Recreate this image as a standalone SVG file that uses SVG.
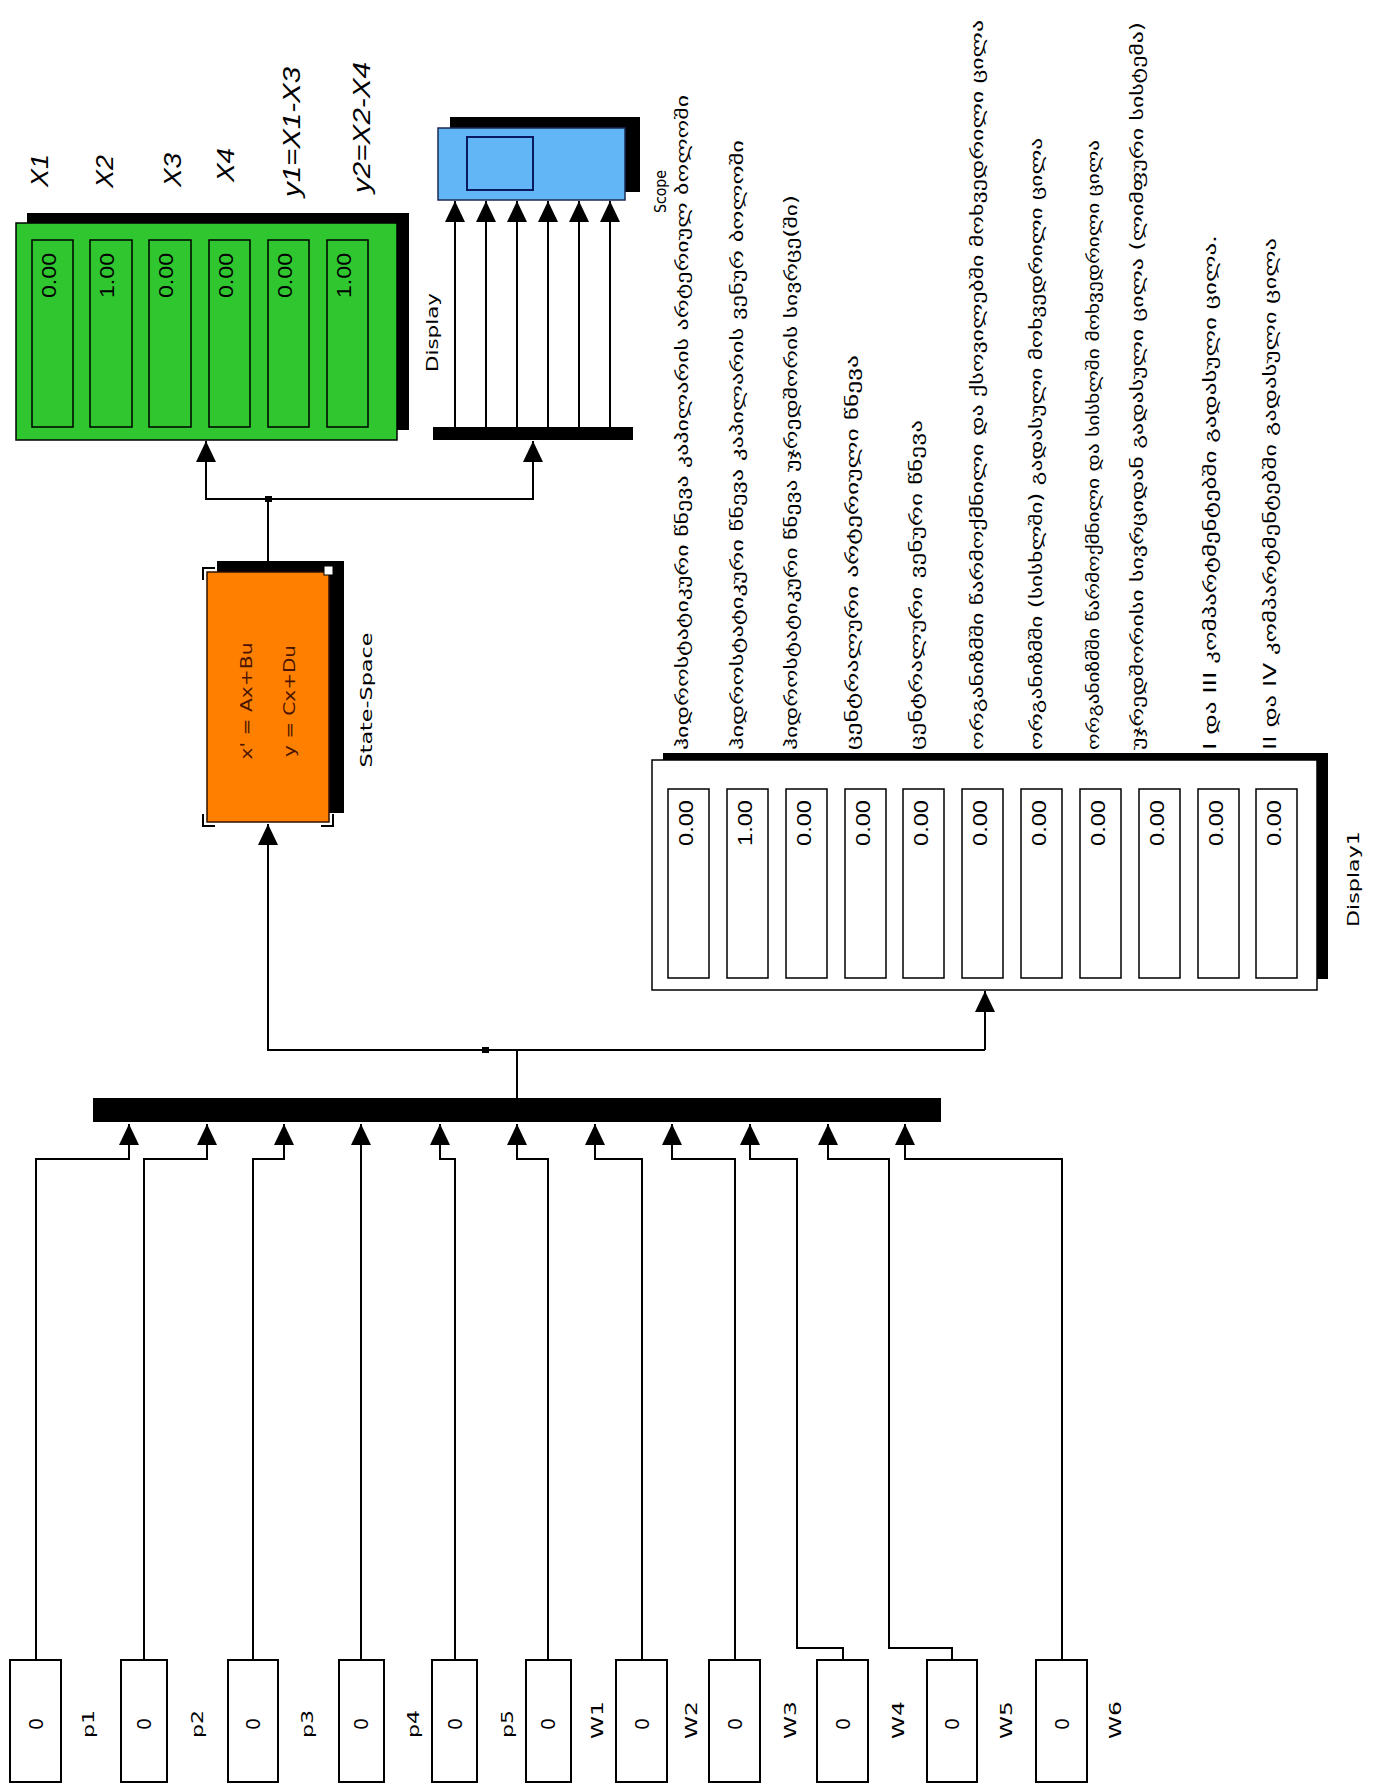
<svg xmlns="http://www.w3.org/2000/svg" width="1386" height="1784" viewBox="0 0 1386 1784">
<style>
.ln{stroke:#000;stroke-width:2;fill:none}
.lbl{font-family:"DejaVu Sans","Liberation Sans",sans-serif;font-size:15px;fill:#000;dominant-baseline:central}
.geo{font-family:"DejaVu Sans","Noto Sans",sans-serif;font-size:17px;fill:#000;dominant-baseline:central}
.val{font-family:"Liberation Sans","DejaVu Sans",sans-serif;font-size:20px;fill:#000;dominant-baseline:central}
.it{font-family:"Liberation Sans",Arial,sans-serif;font-style:italic;font-size:24px;fill:#000;dominant-baseline:central}
.blk{fill:#fff;stroke:#000;stroke-width:2}
.fld{fill:none;stroke:#000;stroke-width:1.5}
</style>
<defs>
<marker id="ar" markerUnits="userSpaceOnUse" markerWidth="22" markerHeight="22" refX="21" refY="10" orient="auto" overflow="visible"><path d="M0,0 L21,10 L0,20 z" fill="#000"/></marker>
</defs>
<rect width="1386" height="1784" fill="#fff"/>

<g id="connectors">
<polyline class="ln" points="36,1660 36,1159 129,1159 129,1124" marker-end="url(#ar)"/>
<polyline class="ln" points="144,1660 144,1159 207,1159 207,1124" marker-end="url(#ar)"/>
<polyline class="ln" points="253,1660 253,1159 284,1159 284,1124" marker-end="url(#ar)"/>
<polyline class="ln" points="361,1660 361,1124" marker-end="url(#ar)"/>
<polyline class="ln" points="455,1660 455,1159 440,1159 440,1124" marker-end="url(#ar)"/>
<polyline class="ln" points="548,1660 548,1159 517,1159 517,1124" marker-end="url(#ar)"/>
<polyline class="ln" points="642,1660 642,1159 595,1159 595,1124" marker-end="url(#ar)"/>
<polyline class="ln" points="735,1660 735,1159 672,1159 672,1124" marker-end="url(#ar)"/>
<polyline class="ln" points="843,1660 843,1648 797,1648 797,1159 750,1159 750,1124" marker-end="url(#ar)"/>
<polyline class="ln" points="952,1660 952,1648 889,1648 889,1159 828,1159 828,1124" marker-end="url(#ar)"/>
<polyline class="ln" points="1062,1660 1062,1159 905,1159 905,1124" marker-end="url(#ar)"/>
<polyline class="ln" points="517,1098 517,1050"/>
<polyline class="ln" points="985,1050 268,1050 268,824" marker-end="url(#ar)"/>
<polyline class="ln" points="985,1050 985,991" marker-end="url(#ar)"/>
<rect x="482" y="1047" width="7" height="6" fill="#000"/>
<polyline class="ln" points="268,562 268,499"/>
<polyline class="ln" points="268,499 206,499 206,441" marker-end="url(#ar)"/>
<polyline class="ln" points="268,499 533,499 533,441" marker-end="url(#ar)"/>
<rect x="265" y="496" width="7" height="6" fill="#000"/>
<polyline class="ln" points="455,427 455,201" marker-end="url(#ar)"/>
<polyline class="ln" points="486,427 486,201" marker-end="url(#ar)"/>
<polyline class="ln" points="517,427 517,201" marker-end="url(#ar)"/>
<polyline class="ln" points="548,427 548,201" marker-end="url(#ar)"/>
<polyline class="ln" points="579,427 579,201" marker-end="url(#ar)"/>
<polyline class="ln" points="610,427 610,201" marker-end="url(#ar)"/>
</g>

<g id="display">
<rect x="27" y="213" width="382" height="217" fill="#000"/>
<rect x="16" y="223" width="381" height="217" fill="#2fc62f" stroke="#000" stroke-width="1.5"/>
<rect class="fld" x="32" y="240" width="41" height="187"/>
<rect class="fld" x="90" y="240" width="42" height="187"/>
<rect class="fld" x="149" y="240" width="42" height="187"/>
<rect class="fld" x="209" y="240" width="41" height="187"/>
<rect class="fld" x="268" y="240" width="41" height="187"/>
<rect class="fld" x="327" y="240" width="41" height="187"/>
<text class="val" transform="translate(49,298) rotate(-90)" textLength="45" lengthAdjust="spacingAndGlyphs">0.00</text>
<text class="val" transform="translate(107,298) rotate(-90)" textLength="45" lengthAdjust="spacingAndGlyphs">1.00</text>
<text class="val" transform="translate(166,298) rotate(-90)" textLength="45" lengthAdjust="spacingAndGlyphs">0.00</text>
<text class="val" transform="translate(226,298) rotate(-90)" textLength="45" lengthAdjust="spacingAndGlyphs">0.00</text>
<text class="val" transform="translate(285,298) rotate(-90)" textLength="45" lengthAdjust="spacingAndGlyphs">0.00</text>
<text class="val" transform="translate(344,298) rotate(-90)" textLength="45" lengthAdjust="spacingAndGlyphs">1.00</text>
<text class="lbl" font-size="17" transform="translate(433,372) rotate(-90)" textLength="79" lengthAdjust="spacingAndGlyphs">Display</text>
<text class="it" transform="translate(39,187) rotate(-90)" textLength="33" lengthAdjust="spacingAndGlyphs">X1</text>
<text class="it" transform="translate(104,188) rotate(-90)" textLength="33" lengthAdjust="spacingAndGlyphs">X2</text>
<text class="it" transform="translate(172,187) rotate(-90)" textLength="34" lengthAdjust="spacingAndGlyphs">X3</text>
<text class="it" transform="translate(225,182) rotate(-90)" textLength="34" lengthAdjust="spacingAndGlyphs">X4</text>
<text class="it" transform="translate(291,197) rotate(-90)" textLength="130" lengthAdjust="spacingAndGlyphs">y1=X1-X3</text>
<text class="it" transform="translate(361,193) rotate(-90)" textLength="131" lengthAdjust="spacingAndGlyphs">y2=X2-X4</text>
</g>

<g id="scope">
<rect x="450" y="117" width="190" height="75" fill="#000"/>
<rect x="438" y="128" width="187" height="72" fill="#62b6f5" stroke="#1a2a50" stroke-width="1.5"/>
<rect x="467" y="137" width="66" height="53" fill="none" stroke="#0a1a60" stroke-width="2"/>
<text class="lbl" font-size="16" transform="translate(661,213) rotate(-90)" textLength="43" lengthAdjust="spacingAndGlyphs">Scope</text>
</g>

<g id="demux">
<rect x="433" y="427" width="200" height="13" fill="#000"/>
</g>

<g id="state-space">
<rect x="217" y="561" width="127" height="252" fill="#000"/>
<rect x="207" y="572" width="122" height="250" fill="#ff8000" stroke="#301000" stroke-width="1.5"/>
<path d="M203,580 V568 H215" class="ln" stroke-width="3"/>
<path d="M203,814 V826 H215" class="ln" stroke-width="3"/>
<path d="M321,826 H333 V814" class="ln" stroke-width="3"/>
<rect x="324" y="566" width="9" height="9" fill="#fff" stroke="#000" stroke-width="1"/>
<text class="lbl" font-size="18" text-anchor="middle" transform="translate(247,701) rotate(-90)" textLength="117" lengthAdjust="spacingAndGlyphs" style="fill:#4a1400">x' = Ax+Bu</text>
<text class="lbl" font-size="18" text-anchor="middle" transform="translate(290,701) rotate(-90)" textLength="112" lengthAdjust="spacingAndGlyphs" style="fill:#4a1400">y = Cx+Du</text>
<text class="lbl" font-size="17" text-anchor="middle" transform="translate(367,700) rotate(-90)" textLength="135" lengthAdjust="spacingAndGlyphs">State-Space</text>
</g>

<g id="mux">
<rect x="93" y="1098" width="848" height="24" fill="#000"/>
</g>

<g id="display1">
<rect x="663" y="753" width="665" height="226" fill="#000"/>
<rect x="652" y="760" width="665" height="230" fill="#fff" stroke="#000" stroke-width="1.5"/>
<rect class="fld" x="668" y="789" width="41" height="189"/>
<rect class="fld" x="727" y="789" width="41" height="189"/>
<rect class="fld" x="786" y="789" width="41" height="189"/>
<rect class="fld" x="845" y="789" width="41" height="189"/>
<rect class="fld" x="903" y="789" width="41" height="189"/>
<rect class="fld" x="962" y="789" width="41" height="189"/>
<rect class="fld" x="1021" y="789" width="41" height="189"/>
<rect class="fld" x="1080" y="789" width="41" height="189"/>
<rect class="fld" x="1139" y="789" width="41" height="189"/>
<rect class="fld" x="1198" y="789" width="41" height="189"/>
<rect class="fld" x="1256" y="789" width="41" height="189"/>
<text class="val" transform="translate(686,846) rotate(-90)" textLength="46" lengthAdjust="spacingAndGlyphs">0.00</text>
<text class="val" transform="translate(745,846) rotate(-90)" textLength="46" lengthAdjust="spacingAndGlyphs">1.00</text>
<text class="val" transform="translate(804,846) rotate(-90)" textLength="46" lengthAdjust="spacingAndGlyphs">0.00</text>
<text class="val" transform="translate(863,846) rotate(-90)" textLength="46" lengthAdjust="spacingAndGlyphs">0.00</text>
<text class="val" transform="translate(921,846) rotate(-90)" textLength="46" lengthAdjust="spacingAndGlyphs">0.00</text>
<text class="val" transform="translate(980,846) rotate(-90)" textLength="46" lengthAdjust="spacingAndGlyphs">0.00</text>
<text class="val" transform="translate(1039,846) rotate(-90)" textLength="46" lengthAdjust="spacingAndGlyphs">0.00</text>
<text class="val" transform="translate(1098,846) rotate(-90)" textLength="46" lengthAdjust="spacingAndGlyphs">0.00</text>
<text class="val" transform="translate(1157,846) rotate(-90)" textLength="46" lengthAdjust="spacingAndGlyphs">0.00</text>
<text class="val" transform="translate(1216,846) rotate(-90)" textLength="46" lengthAdjust="spacingAndGlyphs">0.00</text>
<text class="val" transform="translate(1274,846) rotate(-90)" textLength="46" lengthAdjust="spacingAndGlyphs">0.00</text>
<text class="lbl" font-size="17" text-anchor="middle" transform="translate(1354,879) rotate(-90)" textLength="96" lengthAdjust="spacingAndGlyphs">Display1</text>
</g>

<g id="display1-labels">
<text class="geo" transform="translate(682,750) rotate(-90)" textLength="655" lengthAdjust="spacingAndGlyphs">ჰიდროსტატიკური წნევა კაპილარის არტერიულ ბოლოში</text>
<text class="geo" transform="translate(737,750) rotate(-90)" textLength="610" lengthAdjust="spacingAndGlyphs">ჰიდროსტატიკური წნევა კაპილარის ვენურ ბოლოში</text>
<text class="geo" transform="translate(791,750) rotate(-90)" textLength="555" lengthAdjust="spacingAndGlyphs">ჰიდროსტატიკური წნევა უჯრედშორის სივრცე(ში)</text>
<text class="geo" transform="translate(852,750) rotate(-90)" textLength="395" lengthAdjust="spacingAndGlyphs">ცენტრალური არტერიული წნევა</text>
<text class="geo" transform="translate(916,750) rotate(-90)" textLength="330" lengthAdjust="spacingAndGlyphs">ცენტრალური ვენური წნევა</text>
<text class="geo" transform="translate(977,750) rotate(-90)" textLength="730" lengthAdjust="spacingAndGlyphs">ორგანიზმში წარმოქმნილი და ქსოვილებში მოხვედრილი ცილა</text>
<text class="geo" transform="translate(1036,750) rotate(-90)" textLength="612" lengthAdjust="spacingAndGlyphs">ორგანიზმში (სისხლში) გადასული მოხვედრილი ცილა</text>
<text class="geo" transform="translate(1093,750) rotate(-90)" textLength="610" lengthAdjust="spacingAndGlyphs">ორგანიზმში წარმოქმნილი და სისხლში მოხვედრილი ცილა</text>
<text class="geo" transform="translate(1137,750) rotate(-90)" textLength="728" lengthAdjust="spacingAndGlyphs">უჯრედშორისი სივრციდან გადასული ცილა (ლიმფური სისტემა)</text>
<text class="geo" transform="translate(1210,750) rotate(-90)" textLength="515" lengthAdjust="spacingAndGlyphs">I და III კომპარტმენტებში გადასული ცილა.</text>
<text class="geo" transform="translate(1270,750) rotate(-90)" textLength="512" lengthAdjust="spacingAndGlyphs">II და IV კომპარტმენტებში გადასული ცილა</text>
</g>

<g id="constants">
<g id="c-p1"><rect class="blk" x="10" y="1660" width="51" height="122"/><text class="val" font-size="17" text-anchor="middle" transform="translate(36,1724) rotate(-90)">0</text><text class="lbl" font-size="16" text-anchor="middle" transform="translate(89,1724) rotate(-90)" textLength="28" lengthAdjust="spacingAndGlyphs">p1</text></g>
<g id="c-p2"><rect class="blk" x="121" y="1660" width="46" height="122"/><text class="val" font-size="17" text-anchor="middle" transform="translate(144,1724) rotate(-90)">0</text><text class="lbl" font-size="16" text-anchor="middle" transform="translate(198,1724) rotate(-90)" textLength="28" lengthAdjust="spacingAndGlyphs">p2</text></g>
<g id="c-p3"><rect class="blk" x="228" y="1660" width="50" height="122"/><text class="val" font-size="17" text-anchor="middle" transform="translate(253,1724) rotate(-90)">0</text><text class="lbl" font-size="16" text-anchor="middle" transform="translate(308,1724) rotate(-90)" textLength="28" lengthAdjust="spacingAndGlyphs">p3</text></g>
<g id="c-p4"><rect class="blk" x="339" y="1660" width="45" height="122"/><text class="val" font-size="17" text-anchor="middle" transform="translate(361,1724) rotate(-90)">0</text><text class="lbl" font-size="16" text-anchor="middle" transform="translate(414,1724) rotate(-90)" textLength="28" lengthAdjust="spacingAndGlyphs">p4</text></g>
<g id="c-p5"><rect class="blk" x="432" y="1660" width="45" height="122"/><text class="val" font-size="17" text-anchor="middle" transform="translate(455,1724) rotate(-90)">0</text><text class="lbl" font-size="16" text-anchor="middle" transform="translate(508,1724) rotate(-90)" textLength="28" lengthAdjust="spacingAndGlyphs">p5</text></g>
<g id="c-W1"><rect class="blk" x="526" y="1660" width="45" height="122"/><text class="val" font-size="17" text-anchor="middle" transform="translate(548,1724) rotate(-90)">0</text><text class="lbl" font-size="16" text-anchor="middle" transform="translate(598,1720) rotate(-90)" textLength="38" lengthAdjust="spacingAndGlyphs">W1</text></g>
<g id="c-W2"><rect class="blk" x="616" y="1660" width="51" height="122"/><text class="val" font-size="17" text-anchor="middle" transform="translate(642,1724) rotate(-90)">0</text><text class="lbl" font-size="16" text-anchor="middle" transform="translate(692,1720) rotate(-90)" textLength="38" lengthAdjust="spacingAndGlyphs">W2</text></g>
<g id="c-W3"><rect class="blk" x="709" y="1660" width="51" height="122"/><text class="val" font-size="17" text-anchor="middle" transform="translate(735,1724) rotate(-90)">0</text><text class="lbl" font-size="16" text-anchor="middle" transform="translate(791,1720) rotate(-90)" textLength="38" lengthAdjust="spacingAndGlyphs">W3</text></g>
<g id="c-W4"><rect class="blk" x="817" y="1660" width="51" height="122"/><text class="val" font-size="17" text-anchor="middle" transform="translate(843,1724) rotate(-90)">0</text><text class="lbl" font-size="16" text-anchor="middle" transform="translate(899,1720) rotate(-90)" textLength="38" lengthAdjust="spacingAndGlyphs">W4</text></g>
<g id="c-W5"><rect class="blk" x="927" y="1660" width="50" height="122"/><text class="val" font-size="17" text-anchor="middle" transform="translate(952,1724) rotate(-90)">0</text><text class="lbl" font-size="16" text-anchor="middle" transform="translate(1007,1720) rotate(-90)" textLength="38" lengthAdjust="spacingAndGlyphs">W5</text></g>
<g id="c-W6"><rect class="blk" x="1036" y="1660" width="51" height="122"/><text class="val" font-size="17" text-anchor="middle" transform="translate(1062,1724) rotate(-90)">0</text><text class="lbl" font-size="16" text-anchor="middle" transform="translate(1116,1720) rotate(-90)" textLength="38" lengthAdjust="spacingAndGlyphs">W6</text></g>
</g>
</svg>
